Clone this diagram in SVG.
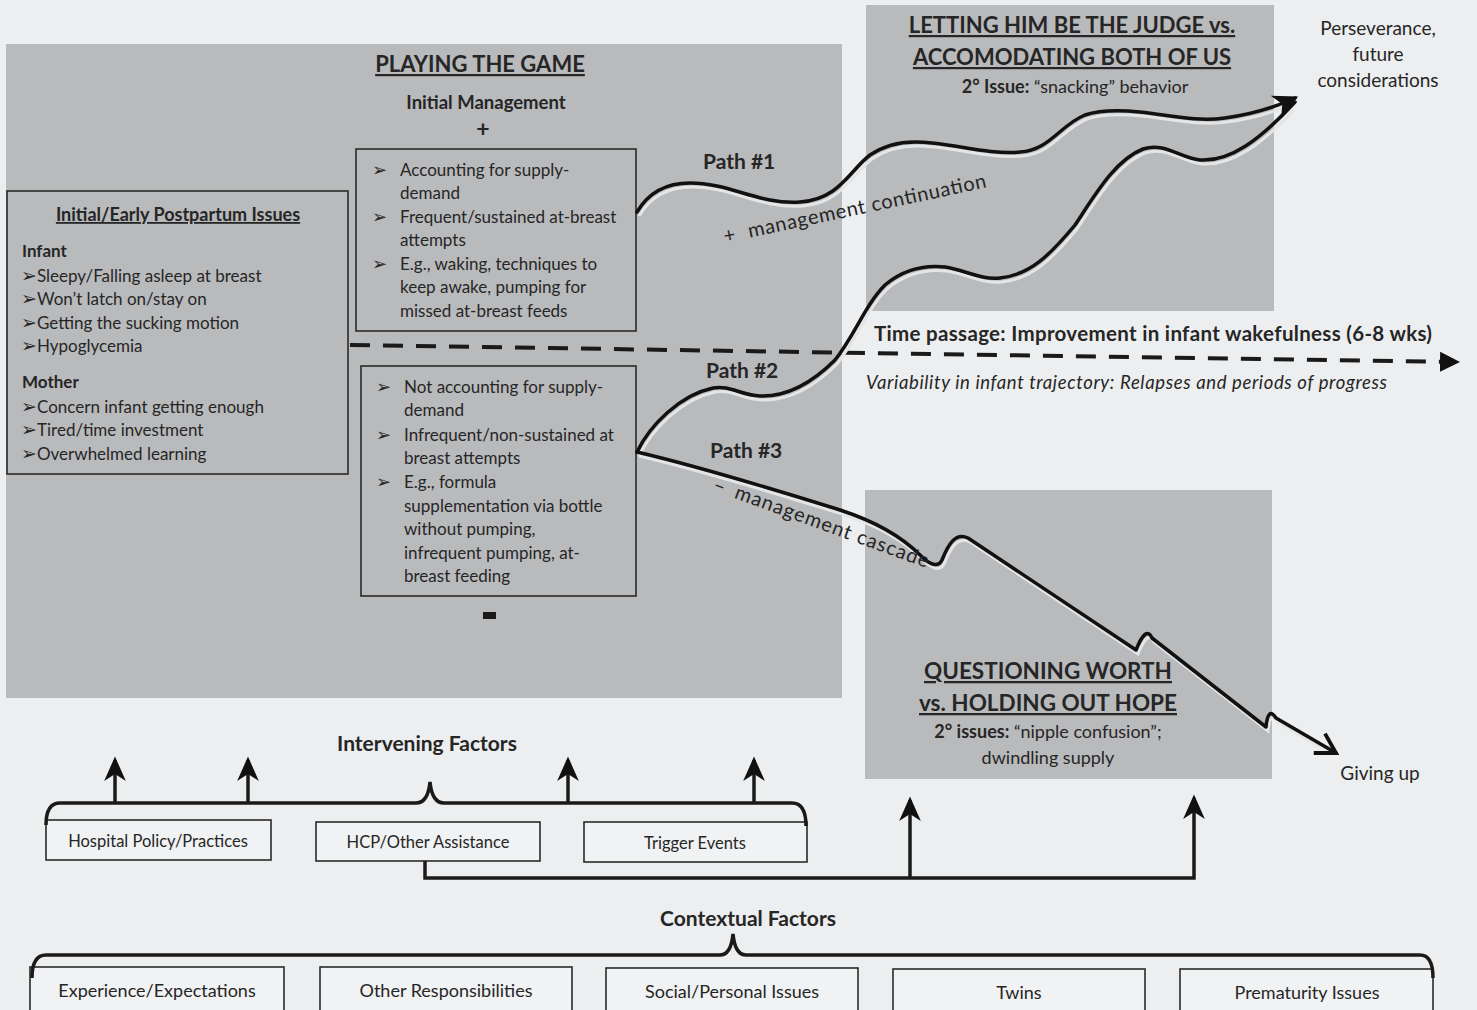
<svg xmlns="http://www.w3.org/2000/svg" width="1477" height="1010" viewBox="0 0 1477 1010">
<defs>
<style>
text{font-family:Lato,"Liberation Sans","DejaVu Sans",sans-serif;fill:#262626;}
.b{font-weight:bold;}
.u{text-decoration:underline;}
.m{text-anchor:middle;}
.bul{font-family:"DejaVu Sans",sans-serif;font-size:19px;font-weight:bold;}
.bul2{font-family:"DejaVu Sans",sans-serif;font-size:18px;font-weight:bold;}
.panel{fill:#b9babc;}
.box{fill:none;stroke:#2a2a2a;stroke-width:1.6;}
.wbox{fill:#f1f2f3;stroke:#2a2a2a;stroke-width:1.6;}
.wave{fill:none;stroke:#111;stroke-width:3.5;stroke-linecap:round;stroke-linejoin:round;}
.halo{fill:none;stroke:#e4e5e6;stroke-width:3;}
.conn{fill:none;stroke:#1a1a1a;stroke-width:3.5;}
.t17{font-size:17px;}
</style>
<marker id="fill" markerWidth="8" markerHeight="8" refX="6" refY="4" orient="auto" markerUnits="strokeWidth">
<path d="M0,0.5 L7,4 L0,7.5 L2,4 Z" fill="#111"/>
</marker>
<marker id="vee" markerWidth="8" markerHeight="8" refX="6.5" refY="4" orient="auto" markerUnits="strokeWidth">
<path d="M1,0.8 L6.5,4 L1,7.2" fill="none" stroke="#111" stroke-width="1.1"/>
</marker>
<marker id="up" markerWidth="8" markerHeight="8" refX="6" refY="4" orient="auto" markerUnits="strokeWidth">
<path d="M0,0.9 L7,4 L0,7.1 L2,4 Z" fill="#111"/>
</marker>
<marker id="dash" markerWidth="6" markerHeight="6" refX="3" refY="3" orient="auto" markerUnits="strokeWidth">
<path d="M0,0.5 L5,3 L0,5.5 Z" fill="#111"/>
</marker>
</defs>
<rect width="1477" height="1010" fill="#eceeef"/>

<g id="playing-the-game">
<rect class="panel" x="6" y="44" width="836" height="654"/>
<text class="b u m" x="480" y="72" font-size="22">PLAYING THE GAME</text>
<text class="b m" x="486" y="109" font-size="18.5">Initial Management</text>
<text class="b m" x="483" y="137" font-size="23">+</text>
<rect x="483" y="612" width="13" height="7" fill="#1a1a1a"/>
</g>

<g id="early-issues">
<rect class="box" x="7" y="191" width="341" height="283"/>
<text class="b u m" x="178" y="221" font-size="18">Initial/Early Postpartum Issues</text>
<text class="b" x="22" y="257" font-size="17">Infant</text>
<g class="t17">
<text class="bul" x="21" y="282">➢</text><text x="37" y="282">Sleepy/Falling asleep at breast</text>
<text class="bul" x="21" y="305">➢</text><text x="37" y="305">Won’t latch on/stay on</text>
<text class="bul" x="21" y="329">➢</text><text x="37" y="329">Getting the sucking motion</text>
<text class="bul" x="21" y="352">➢</text><text x="37" y="352">Hypoglycemia</text>
</g>
<text class="b" x="22" y="388" font-size="17">Mother</text>
<g class="t17">
<text class="bul" x="21" y="413">➢</text><text x="37" y="413">Concern infant getting enough</text>
<text class="bul" x="21" y="436">➢</text><text x="37" y="436">Tired/time investment</text>
<text class="bul" x="21" y="460">➢</text><text x="37" y="460">Overwhelmed learning</text>
</g>
</g>

<g id="positive-management">
<rect class="box" x="356" y="149" width="280" height="182"/>
<g class="t17">
<text class="bul2" x="372" y="176">➢</text>
<text x="400" y="176">Accounting for supply-</text>
<text x="400" y="199">demand</text>
<text class="bul2" x="372" y="223">➢</text>
<text x="400" y="223">Frequent/sustained at-breast</text>
<text x="400" y="246">attempts</text>
<text class="bul2" x="372" y="270">➢</text>
<text x="400" y="270">E.g., waking, techniques to</text>
<text x="400" y="293">keep awake, pumping for</text>
<text x="400" y="317">missed at-breast feeds</text>
</g>
</g>

<g id="negative-management">
<rect class="box" x="361" y="366" width="275" height="230"/>
<g class="t17">
<text class="bul2" x="376" y="393">➢</text>
<text x="404" y="393">Not accounting for supply-</text>
<text x="404" y="416">demand</text>
<text class="bul2" x="376" y="441">➢</text>
<text x="404" y="441">Infrequent/non-sustained at</text>
<text x="404" y="464">breast attempts</text>
<text class="bul2" x="376" y="488">➢</text>
<text x="404" y="488">E.g., formula</text>
<text x="404" y="512">supplementation via bottle</text>
<text x="404" y="535">without pumping,</text>
<text x="404" y="559">infrequent pumping, at-</text>
<text x="404" y="582">breast feeding</text>
</g>
</g>

<g id="judge">
<rect class="panel" x="866" y="5" width="408" height="306"/>
<text class="b u m" x="1072" y="33" font-size="22">LETTING HIM BE THE JUDGE  vs.</text>
<text class="b u m" x="1072" y="65" font-size="22">ACCOMODATING BOTH OF US</text>
<text class="m" x="1075" y="93" font-size="18"><tspan class="b">2° Issue:</tspan> “snacking” behavior</text>
</g>

<g id="questioning">
<rect class="panel" x="865" y="490" width="407" height="289"/>
<text class="b u m" x="1048" y="679" font-size="22.5">QUESTIONING WORTH</text>
<text class="b u m" x="1048" y="711" font-size="22.5">vs. HOLDING OUT HOPE</text>
<text class="m" x="1048" y="738" font-size="18"><tspan class="b">2° issues:</tspan> “nipple confusion”;</text>
<text class="m" x="1048" y="764" font-size="18">dwindling supply</text>
</g>

<g id="perseverance">
<text class="m" x="1378" y="35" font-size="19">Perseverance,</text>
<text class="m" x="1378" y="61" font-size="19">future</text>
<text class="m" x="1378" y="87" font-size="19">considerations</text>
</g>

<g id="giving-up">
<text class="m" x="1380" y="780" font-size="19">Giving up</text>
</g>

<g id="time-passage">
<text class="b" x="874" y="341" font-size="20.5" textLength="558" lengthAdjust="spacing">Time passage: Improvement in infant wakefulness (6-8 wks)</text>
<text x="866" y="389" font-size="18.5" font-style="italic" textLength="521" lengthAdjust="spacing">Variability in infant trajectory: Relapses and periods of progress</text>
</g>

<g id="intervening">
<text class="b m" x="427" y="751" font-size="21">Intervening Factors</text>
<rect class="wbox" x="46" y="820" width="225" height="40"/>
<text class="m" x="158" y="847" font-size="16.5">Hospital Policy/Practices</text>
<rect class="wbox" x="316" y="822" width="224" height="39"/>
<text class="m" x="428" y="848" font-size="16.5">HCP/Other Assistance</text>
<rect class="wbox" x="584" y="822" width="223" height="40"/>
<text class="m" x="695" y="849" font-size="16.5">Trigger Events</text>
</g>

<g id="contextual">
<text class="b m" x="748" y="926" font-size="21">Contextual Factors</text>
<rect class="wbox" x="30" y="967" width="254" height="50"/>
<text class="m" x="157" y="997" font-size="18">Experience/Expectations</text>
<rect class="wbox" x="320" y="967" width="252" height="50"/>
<text class="m" x="446" y="997" font-size="18">Other Responsibilities</text>
<rect class="wbox" x="606" y="968" width="252" height="50"/>
<text class="m" x="732" y="998" font-size="18">Social/Personal Issues</text>
<rect class="wbox" x="893" y="969" width="252" height="50"/>
<text class="m" x="1019" y="999" font-size="18">Twins</text>
<rect class="wbox" x="1180" y="969" width="253" height="50"/>
<text class="m" x="1307" y="999" font-size="18">Prematurity Issues</text>
</g>

<g id="connectors">
<path d="M350,345 L1452,362" fill="none" stroke="#1a1a1a" stroke-width="4" stroke-dasharray="20 13" marker-end="url(#dash)"/>
<g transform="translate(2,4)">
<path class="halo" d="M637,212 C650,190 670,183 690,183 C730,183 760,205 800,202 C840,199 850,170 870,155 C885,145 900,142 915,142 C950,142 985,155 1020,152 C1050,150 1060,125 1085,115 C1100,110 1120,110 1140,112 C1170,115 1195,122 1225,118 C1255,114 1280,105 1295,98"/>
<path class="halo" d="M637,452 C650,425 680,395 713,388 C730,385 740,395 760,396 C790,397 815,380 835,360 C855,335 865,305 885,285 C905,268 925,265 945,267 C965,270 980,280 1000,278 C1030,275 1050,255 1075,225 C1095,195 1115,160 1143,149 C1165,142 1180,158 1200,160 C1230,162 1260,140 1292,106"/>
<path class="halo" d="M637,452 C680,462 760,485 840,510 C880,523 905,540 920,555 C930,565 938,568 942,560 C948,545 955,532 968,538 L1136,650 Q1146,625 1152,638 L1266,727 Q1268,706 1276,718 L1330,750"/>
</g>
<path class="wave" d="M637,212 C650,190 670,183 690,183 C730,183 760,205 800,202 C840,199 850,170 870,155 C885,145 900,142 915,142 C950,142 985,155 1020,152 C1050,150 1060,125 1085,115 C1100,110 1120,110 1140,112 C1170,115 1195,122 1225,118 C1255,114 1280,105 1295,98" marker-end="url(#fill)"/>
<path class="wave" d="M637,452 C650,425 680,395 713,388 C730,385 740,395 760,396 C790,397 815,380 835,360 C855,335 865,305 885,285 C905,268 925,265 945,267 C965,270 980,280 1000,278 C1030,275 1050,255 1075,225 C1095,195 1115,160 1143,149 C1165,142 1180,158 1200,160 C1230,162 1260,140 1295,102"/>
<path class="wave" d="M637,452 C680,462 760,485 840,510 C880,523 905,540 920,555 C930,565 938,568 942,560 C948,545 955,532 968,538 L1136,650 Q1146,625 1152,638 L1266,727 Q1268,706 1276,718 L1336,753" marker-end="url(#vee)"/>
<text class="b" x="703" y="169" font-size="21">Path #1</text>
<text class="b" x="706" y="378" font-size="21">Path #2</text>
<text class="b" x="710" y="458" font-size="21">Path #3</text>
<g transform="rotate(-12 725 243)">
<text x="725" y="243" font-size="20">+</text>
<text x="750" y="243" font-size="20" textLength="243" lengthAdjust="spacing">management continuation</text>
</g>
<g transform="rotate(20 712 490)">
<text x="712" y="490" font-size="20">–</text>
<text x="735" y="490" font-size="20" textLength="205" lengthAdjust="spacing">management cascade</text>
</g>
<path class="conn" d="M46,825 Q46,803 60,803 L416,803 Q428,803 430,782 Q432,803 444,803 L792,803 Q806,803 806,826"/>
<line class="conn" x1="115" y1="803" x2="115" y2="760" marker-end="url(#up)"/>
<line class="conn" x1="248" y1="803" x2="248" y2="760" marker-end="url(#up)"/>
<line class="conn" x1="568" y1="803" x2="568" y2="760" marker-end="url(#up)"/>
<line class="conn" x1="754" y1="803" x2="754" y2="760" marker-end="url(#up)"/>
<path class="conn" d="M425,861 L425,878 L1194,878 L1194,798" marker-end="url(#up)"/>
<line class="conn" x1="910" y1="878" x2="910" y2="800" marker-end="url(#up)"/>
<path class="conn" d="M32,978 Q32,955 46,955 L720,955 Q731,955 733,934 Q735,955 746,955 L1420,955 Q1433,955 1433,978"/>
</g>
</svg>
